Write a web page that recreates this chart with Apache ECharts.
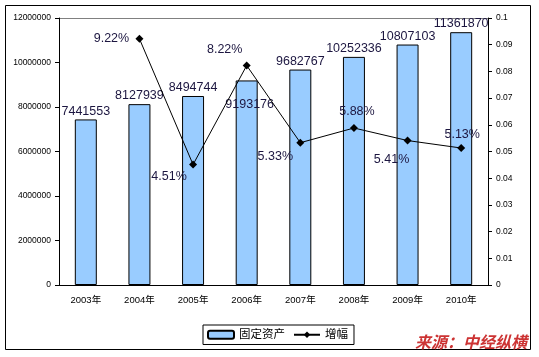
<!DOCTYPE html>
<html>
<head>
<meta charset="utf-8">
<script src="https://cdn.jsdelivr.net/npm/echarts@6/dist/echarts.min.js"></script>
<style>html,body{margin:0;padding:0;background:#fff;}#c{width:539px;height:357px;}</style>
</head>
<body>
<div id="c"></div>
<script>
const categories = ['2003年','2004年','2005年','2006年','2007年','2008年','2009年','2010年'];
const assets = [7441553, 8127939, 8494744, 9193176, 9682767, 10252336, 10807103, 11361870];
const growth = [null, 0.0922, 0.0451, 0.0822, 0.0533, 0.0588, 0.0541, 0.0513];
const seriesNames = ['固定资产', '增幅'];
const sourceText = '来源：中经纵横';

// styling: label offsets (not data)
const lineLabelOffsets = [[0,0],[-28,0],[-24,12],[-22,-16],[-25,14],[3,-16],[-16,19],[1,-13]];
const barLabelOffsets = [[0,0],[0,0],[0,0],[3,32],[0,0],[0,0],[0,0],[0,0]];

const FONT = '"Liberation Sans", Arial, "Noto Sans CJK SC", sans-serif';
const labelColor = '#1c1640';

const chart = echarts.init(document.getElementById('c'), null, {renderer: 'canvas'});
chart.setOption({
  animation: false,
  backgroundColor: '#fff',
  textStyle: {fontFamily: FONT},
  grid: {left: 59, right: 51, top: 18, bottom: 72, containLabel: false},
  legend: {
    left: 203, top: 325,
    borderColor: '#000', borderWidth: 1,
    padding: [4, 6, 4, 4],
    itemGap: 8, itemWidth: 26, itemHeight: 8,
    textStyle: {fontSize: 11.5, color: '#000', fontFamily: FONT},
    data: seriesNames
  },
  xAxis: {
    type: 'category',
    data: categories,
    axisLine: {lineStyle: {color: '#000', width: 1}},
    axisTick: {inside: true, length: 3, lineStyle: {color: '#000'}},
    axisLabel: {fontSize: 9.5, color: '#000', margin: 11, fontFamily: FONT}
  },
  yAxis: [{
    type: 'value', min: 0, max: 12000000, interval: 2000000,
    axisLine: {show: true, lineStyle: {color: '#000'}},
    axisTick: {show: true, length: 4, lineStyle: {color: '#000'}},
    axisLabel: {fontSize: 8.5, color: '#000', margin: 8, fontFamily: FONT, formatter: v => String(v)},
    splitLine: {show: false}
  }, {
    type: 'value', min: 0, max: 0.1, interval: 0.01,
    position: 'right',
    axisLine: {show: true, lineStyle: {color: '#000'}},
    axisTick: {show: true, length: 4, lineStyle: {color: '#000'}},
    axisLabel: {fontSize: 8.5, color: '#000', margin: 8, fontFamily: FONT, formatter: v => String(+v.toFixed(2))},
    splitLine: {show: false}
  }],
  series: [{
    name: seriesNames[0],
    type: 'bar',
    yAxisIndex: 0,
    barWidth: '41%',
    itemStyle: {color: '#99ccff', borderColor: '#000', borderWidth: 1},
    data: assets.map((v, i) => ({
      value: v,
      label: {offset: barLabelOffsets[i]}
    })),
    label: {
      show: true, position: 'top', distance: 2,
      fontSize: 12.5, color: labelColor, fontFamily: FONT
    }
  }, {
    name: seriesNames[1],
    type: 'line',
    yAxisIndex: 1,
    symbol: 'diamond', symbolSize: 8,
    itemStyle: {color: '#000'},
    lineStyle: {color: '#000', width: 1},
    connectNulls: false,
    data: growth.map((v, i) => ({
      value: v,
      label: {offset: lineLabelOffsets[i]}
    })),
    label: {
      show: true, position: 'inside', align: 'center', verticalAlign: 'middle',
      fontSize: 12.5, color: labelColor, fontFamily: FONT,
      formatter: p => p.value == null ? '' : (p.value * 100).toFixed(2) + '%'
    }
  }],
  graphic: [
    {type: 'rect', shape: {x: 5.5, y: 5.5, width: 525, height: 344},
     style: {fill: null, stroke: '#000', lineWidth: 1}, silent: true, z: -1},
    {type: 'line', shape: {x1: 59, y1: 18.5, x2: 488, y2: 18.5}, style: {stroke: '#808080', lineWidth: 1}, silent: true},
    {type: 'text', x: 415, y: 334,
     style: {text: sourceText, fill: '#cc3333', font: 'italic bold 16px "Noto Sans CJK SC", sans-serif'}, z: 10}
  ]
});
</script>
</body>
</html>
